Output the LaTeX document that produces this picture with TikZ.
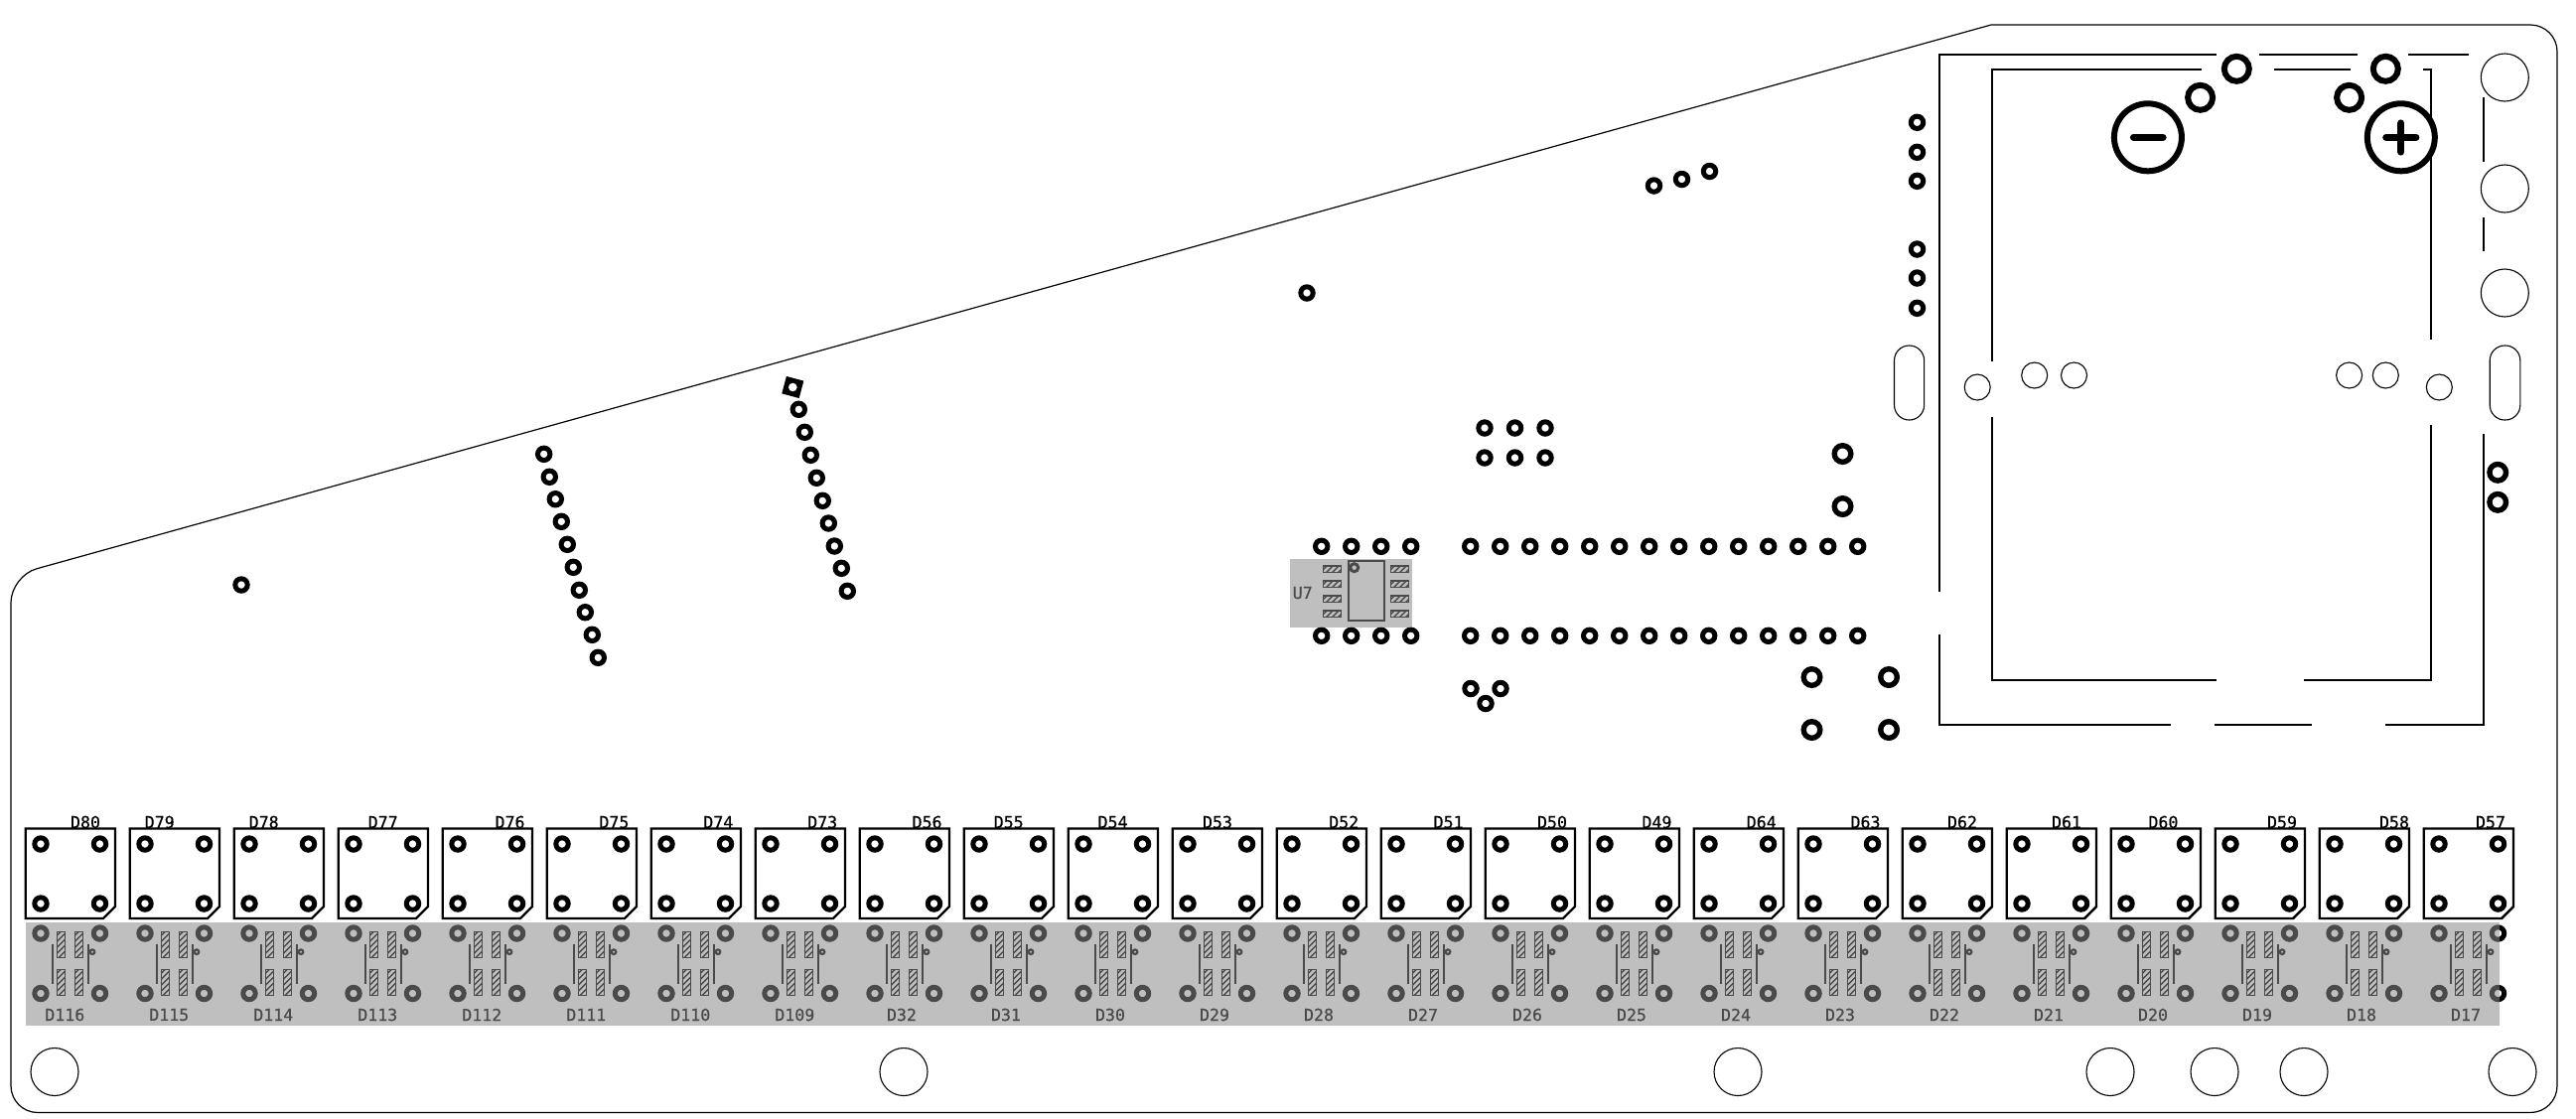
\documentclass[tikz,border=0pt]{standalone}
\usepackage{fontspec}
\setmonofont[FakeBold=0.5]{DejaVu Sans Mono}
\tikzset{
  x=0.5pt,y=-0.5pt,
  outline/.style={draw=black,line width=0.6pt},
  thin hole/.style={draw=black,line width=0.55pt},
  via/.style={draw=black,line width=2.5pt},
  midvia/.style={draw=black,line width=2.7pt},
  bigvia/.style={draw=black,line width=3pt},
  silk/.style={draw=black,line width=1.1pt},
  ledbox/.style={draw=black,line width=1.2pt},
  padline/.style={draw=black,line width=0.7pt},
  bodyline/.style={draw=black,line width=1.1pt},
  lab/.style={font=\ttfamily\fontsize{8.3pt}{8.3pt}\selectfont,inner sep=0pt,text=black},
  overlay gray/.style={fill=black!46,fill opacity=0.54,draw=none}
}
\newcommand{\hatchpad}[4]{%
  \begin{scope}
    \clip (#1,#2) rectangle (#3,#4);
    \foreach \k in {0,...,7}{\draw[draw=black,line width=0.7pt,shift={(#1,#2)}] (-2,\k*6) -- ++(34,-34);}
  \end{scope}
  \draw[padline] (#1,#2) rectangle (#3,#4);
}
\begin{document}
\begin{tikzpicture}
\useasboundingbox (0,0) rectangle (2594,1126);
\fill[white] (0,0) rectangle (2594,1126);
% board outline
\draw[outline,rounded corners=13.5pt] (2005,25) -- (2575,25) -- (2575,1120.5) -- (11,1120.5) -- (11,580) -- (2005,25);
% mounting circles
\foreach \mx/\my in {55/1079.5,910/1079.5,1750/1079.5,2125/1079.5,2230/1079.5,2320/1079.5,2530/1079.5,2522.3/78,2522.3/190,2522.3/295}
  \draw[thin hole] (\mx,\my) circle (24);
\foreach \mx/\my in {1991.2/390,2048.7/378,2088.5/378,2365.6/378,2402.3/378,2456.3/390}
  \draw[thin hole] (\mx,\my) circle (13);
\draw[thin hole,rounded corners=7.5pt] (1907.5,348) rectangle (1937.6,423);
\draw[thin hole,rounded corners=7.5pt] (2507.2,348) rectangle (2537.8,423);
% battery holder silk
\draw[silk] (2232,55) -- (1952.7,55) -- (1952.7,596);
\draw[silk] (1952.7,639) -- (1952.7,730) -- (2185.9,730);
\draw[silk] (2230.2,730) -- (2328,730);
\draw[silk] (2401.9,730) -- (2501,730) -- (2501,437);
\draw[silk] (2501,219) -- (2501,253);
\draw[silk] (2501,98) -- (2501,163);
\draw[silk] (2275.3,55) -- (2373.6,55);
\draw[silk] (2425.4,55) -- (2486.4,55);
\draw[silk] (2216.9,70) -- (2005.8,70) -- (2005.8,364);
\draw[silk] (2005.8,420) -- (2005.8,685) -- (2232,685);
\draw[silk] (2320,685) -- (2447.9,685) -- (2447.9,428);
\draw[silk] (2447.9,342) -- (2447.9,70) -- (2440,70);
\draw[silk] (2289.9,70) -- (2366.5,70);
% battery contacts
\foreach \bx/\by in {2252.3/69.3,2215.6/98.3,2402.3/69.3,2365.6/98.3}
  \draw[fill=white,bigvia] (\bx,\by) circle (12.5);
\draw[fill=white,draw=black,line width=3pt] (2162.9,138.3) circle (34);
\draw[fill=white,draw=black,line width=3pt] (2417.8,138.3) circle (34);
\draw[draw=black,line width=3.6pt,line cap=round] (2148.5,138.3) -- (2178,138.3);
\draw[draw=black,line width=3.6pt,line cap=round] (2402.8,138.3) -- (2432.8,138.3);
\draw[draw=black,line width=3.6pt,line cap=round] (2417.8,124) -- (2417.8,153);
% small vias
\foreach \vx/\vy in {1930.5/123.3,1930.5/153.3,1930.5/182.3,1930.5/251,1930.5/280,1930.5/310.3,
  1665.5/187,1693.5/180.5,1721.5/172.5,1316/295,243/589,
  1495/431,1525.5/431,1556/431,1495/461,1525.5/461,1556/461,
  1481/693.5,1511/693.5,1496/708.5,
  1330.7/550.3,1360.7/550.3,1390.7/550.3,1420.7/550.3,1330.7/640.3,1360.7/640.3,1390.7/640.3,1420.7/640.3,
  547.7/457.3,553.3/480.3,559.3/502.7,565.3/525.3,571.3/548.3,577.3/571.3,583.3/594.3,589.3/616.7,596.3/639.3,602.3/662.3,
  804.3/412.3,810.3/435.3,816.3/458.3,822.3/481.3,828.3/504.3,834.3/527,840.3/550,847.3/572.3,853.3/595.3}
  \draw[via] (\vx,\vy) circle (6.2);
\foreach \k in {0,...,13}{
  \draw[via] (1480.7+\k*30,550.3) circle (6.2);
  \draw[via] (1480.7+\k*30,640.3) circle (6.2);
}
% medium vias
\foreach \vx/\vy in {1855.5/457,1855.5/510,2515.2/475.8,2515.2/505.8,1824.5/682,1902/682,1824.5/735,1902/735}
  \draw[midvia] (\vx,\vy) circle (8.3);
% pin 1 square
\fill[black,rotate around={-15:(798.3,390)}] (789.3,381) rectangle (807.3,399);
\fill[white] (798.3,390) circle (4.3);
% U7
\draw[bodyline] (1357.7,564.7) rectangle (1394.3,625.3);
\draw[draw=black,line width=1.5pt] (1363.7,571.7) circle (4);
\foreach \py in {573.3,588.3,603.3,618.3}{
  \hatchpad{1332.3}{\py-3.4}{1350.7}{\py+3.4}
  \hatchpad{1400.3}{\py-3.4}{1418.7}{\py+3.4}
}
\node[lab] (u7) at (1311.7,597) {U7};
% LED rows
\foreach \i in {0,...,23}{
  \begin{scope}[xshift=\i*52.5pt]
    \draw[ledbox] (25.7,834.5) -- (116,834.5) -- (116,913) -- (104,925) -- (25.7,925) -- cycle;
    \foreach \hx/\hy in {41/850,100.5/850,41/910,100.5/910,41/940,100.5/940,41/1000.5,100.5/1000.5}
      \draw[via] (\hx,\hy) circle (6.2);
    \hatchpad{57.3}{938.3}{65.7}{964.7}
    \hatchpad{75.3}{938.3}{83.7}{964.7}
    \hatchpad{57.3}{976.3}{65.7}{1002.7}
    \hatchpad{75.3}{976.3}{83.7}{1002.7}
    \draw[bodyline] (52.7,950.7) -- (52.7,991);
    \draw[bodyline] (88.7,950.7) -- (88.7,991);
    \draw[draw=black,line width=1.1pt] (93,958.7) circle (2.3);
  \end{scope}
}
\foreach \tname/\tx in {D80/86,D79/160.7,D78/265.7,D77/385.7,D76/513.5,D75/618.4,D74/723.3,D73/828.2,
  D56/933.6,D55/1015.7,D54/1120.6,D53/1226,D52/1353.2,D51/1458.6,D50/1563,D49/1668.4,
  D64/1773.7,D63/1878.5,D62/1976,D61/2081,D60/2178.4,D59/2298,D58/2411,D57/2508}
  \node[lab] (\tname) at (\tx,828) {\tname};
\foreach \bname/\bx in {D116/65.3,D115/170.3,D114/275.3,D113/380.3,D112/485.3,D111/590.3,D110/695.3,D109/800.3,
  D32/908,D31/1013,D30/1118,D29/1223,D28/1328,D27/1433,D26/1538,D25/1643,D24/1748,D23/1853,D22/1958,D21/2063,D20/2168,D19/2273,D18/2378,D17/2483}
  \node[lab] (\bname) at (\bx,1022) {\bname};
% translucent gray highlight over the bottom side parts
\fill[overlay gray] (26,929) rectangle (2517,1033);
\fill[overlay gray] (1299,563) rectangle (1422,631.7);
\end{tikzpicture}
\end{document}
